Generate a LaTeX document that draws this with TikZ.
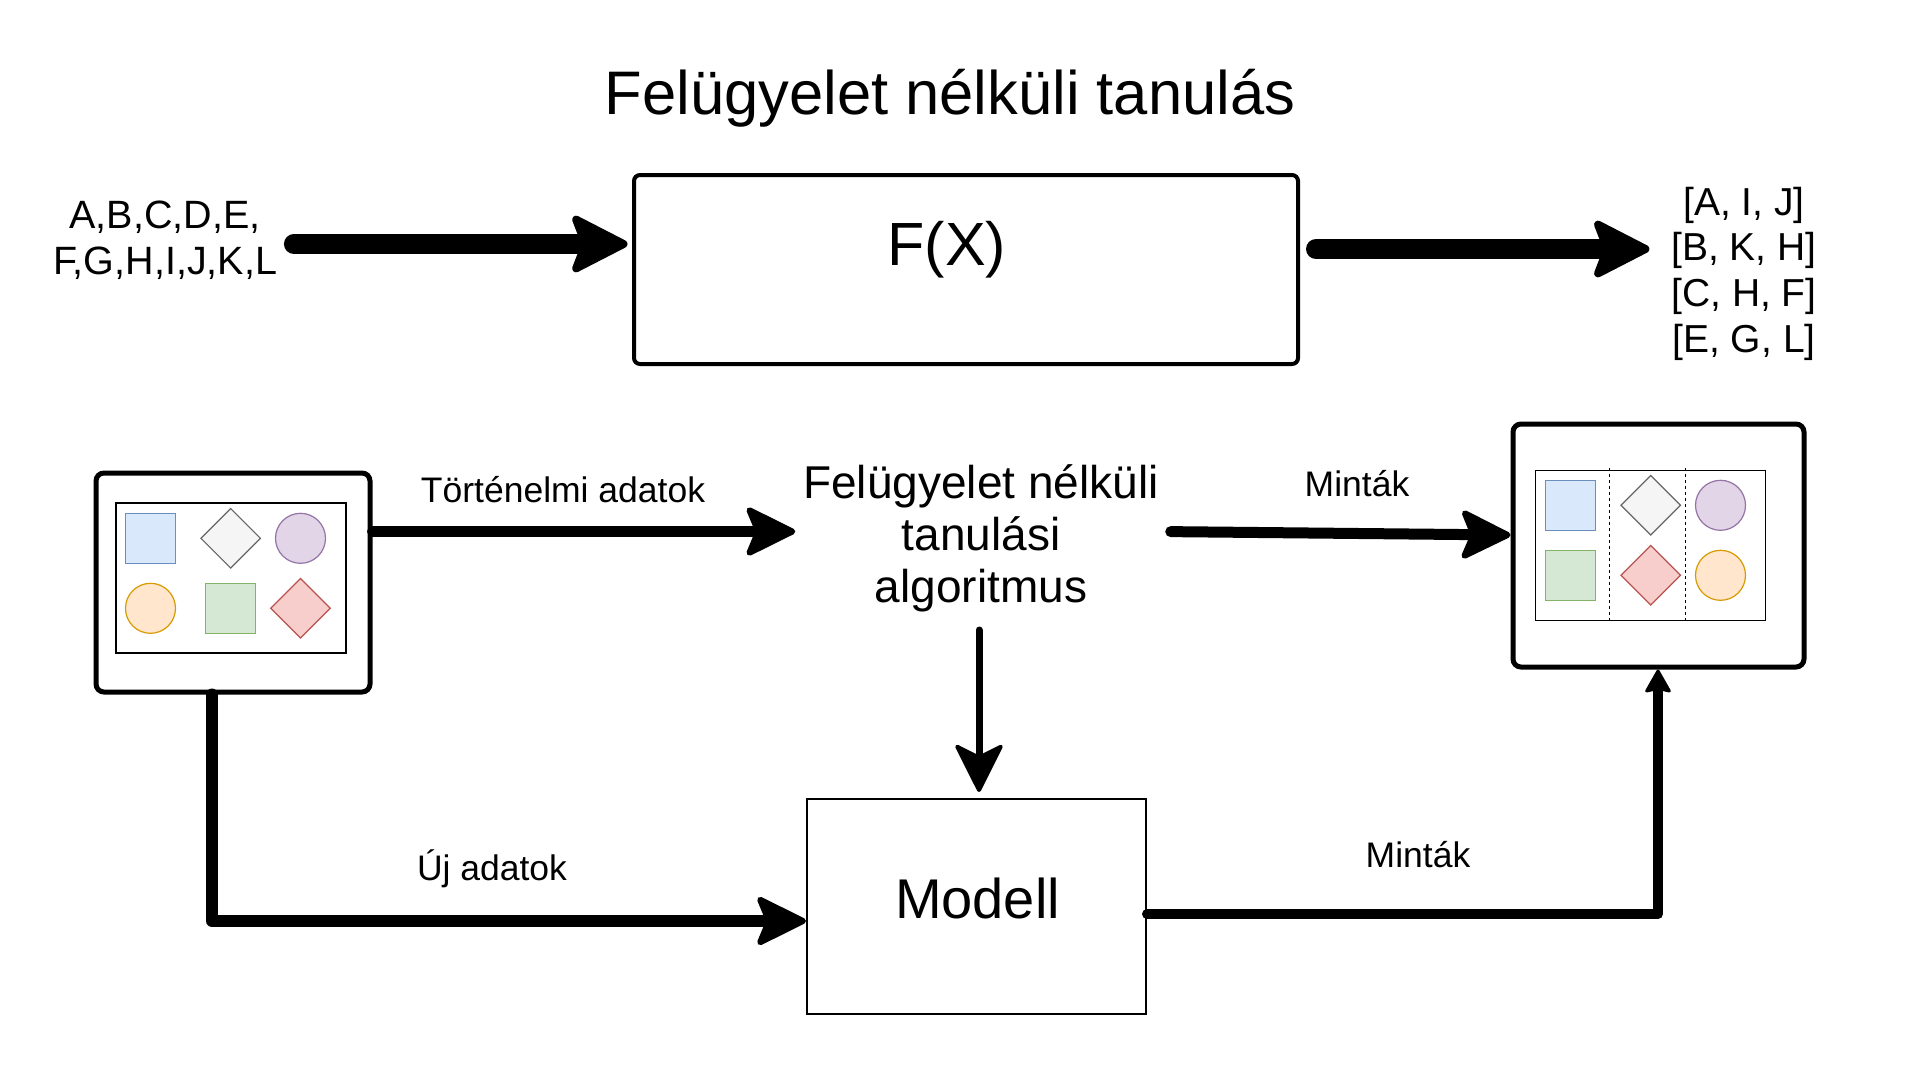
\documentclass[tikz,border=0pt]{standalone}
\usepackage{fontspec}
\setmainfont{Liberation Sans}
\usetikzlibrary{arrows.meta,shapes.geometric,calc}
\definecolor{blueF}{HTML}{DAE8FC}\definecolor{blueD}{HTML}{6C8EBF}
\definecolor{grayF}{HTML}{F5F5F5}\definecolor{grayD}{HTML}{666666}
\definecolor{purpF}{HTML}{E1D5E7}\definecolor{purpD}{HTML}{9673A6}
\definecolor{oranF}{HTML}{FFE6CC}\definecolor{oranD}{HTML}{D79B00}
\definecolor{greeF}{HTML}{D5E8D4}\definecolor{greeD}{HTML}{82B366}
\definecolor{redF}{HTML}{F8CECC}\definecolor{redD}{HTML}{B85450}
\tikzset{
  txt/.style={inner sep=0pt, outer sep=0pt},
  bigarrow/.style={line width=20pt, line cap=round, -{Stealth[length=63pt,width=64pt,inset=12pt,round,line width=8pt]}},
  midarrow/.style={line width=11pt, line cap=round, line join=round, -{Stealth[length=55pt,width=54pt,inset=11pt,round,line width=6pt]}},
  downarrow/.style={line width=7pt, line cap=round, -{Stealth[length=52pt,width=52pt,inset=13pt,round,line width=4pt]}},
  smallarrow/.style={line width=10pt, line cap=round, line join=round, -{Stealth[length=25pt,width=28pt,inset=3pt,round,line width=3pt]}},
  framebox/.style={draw, line width=5pt, rounded corners=8pt, inner sep=0pt, fill=white},
  innerbox/.style={draw, line width=1.5pt, inner sep=0pt},
  sq/.style={rectangle, draw, line width=1.2pt, minimum size=50pt, inner sep=0pt},
  ci/.style={circle, draw, line width=1.2pt, minimum size=50pt, inner sep=0pt},
  di/.style={diamond, draw, line width=1.2pt, minimum width=60pt, minimum height=60pt, inner sep=0pt},
  lbl/.style={txt, anchor=base, font=\fontsize{35.5}{42}\selectfont},
}
\begin{document}
\begin{tikzpicture}[x=1pt,y=-1pt]
\useasboundingbox[fill=white] (0,0) rectangle (1920,1080);

% title
\node[txt, anchor=base, font=\fontsize{61.5}{74}\selectfont] (title) at (950,114) {Felügyelet nélküli tanulás};

% top row
\node[draw, line width=4pt, rounded corners=6pt, minimum width=664pt, minimum height=189pt, inner sep=0pt] (fx) at (966,269.5) {};
\node[txt, anchor=base, font=\fontsize{61}{73}\selectfont] (fxt) at (947,265) {F(X)};
\node[txt, align=center, font=\fontsize{39.5}{45.5}\selectfont] (inL) at (165,240) {A,B,C,D,E,\\F,G,H,I,J,K,L};
\node[txt, align=center, font=\fontsize{39}{45.7}\selectfont] (out) at (1744,273.6) {[A, I, J]\\{[B, K, H]}\\{[C, H, F]}\\{[E, G, L]}};

\coordinate (yT1) at (0,244);
\coordinate (yT2) at (0,249);
\draw[bigarrow, shorten <=17pt, shorten >=4.5pt] (inL.east |- yT1) -- (fx.west |- yT1);
\draw[bigarrow, shorten <=16pt, shorten >=22pt] (fx.east |- yT2) -- (out.west |- yT2);

% left data box
\node[framebox, minimum width=274pt, minimum height=219pt] (lb) at (233,582.5) {};
\node[innerbox, minimum width=230pt, minimum height=150pt] (lbi) at (231,578) {};
\node[sq, fill=blueF, draw=blueD] (l1) at (150.5,538.3) {};
\node[di, fill=grayF, draw=grayD] (l2) at (230.7,538.3) {};
\node[ci, fill=purpF, draw=purpD] (l3) at (300.5,538.3) {};
\node[ci, fill=oranF, draw=oranD] (l4) at (150.5,608.3) {};
\node[sq, fill=greeF, draw=greeD] (l5) at (230.5,608.3) {};
\node[di, fill=redF, draw=redD] (l6) at (300.5,608.3) {};

% right pattern box
\node[framebox, minimum width=291pt, minimum height=243pt] (rb) at (1658.5,545.5) {};
\node[innerbox, minimum width=230pt, minimum height=150pt] (rbi) at (1650.7,545.3) {};
\draw[line width=1.2pt, dash pattern=on 3pt off 3pt] (1609.7,468) -- (1609.7,622);
\draw[line width=1.2pt, dash pattern=on 3pt off 3pt] (1685.3,468) -- (1685.3,622);
\node[sq, fill=blueF, draw=blueD] (r1) at (1570.5,505.3) {};
\node[di, fill=grayF, draw=grayD] (r2) at (1650.7,505.3) {};
\node[ci, fill=purpF, draw=purpD] (r3) at (1720.5,505.3) {};
\node[sq, fill=greeF, draw=greeD] (r4) at (1570.5,575.3) {};
\node[di, fill=redF, draw=redD] (r5) at (1650.7,575.3) {};
\node[ci, fill=oranF, draw=oranD] (r6) at (1720.5,575.3) {};

% algorithm
\node[txt, align=center, font=\fontsize{46}{52}\selectfont] (alg) at (981,538.3) {Felügyelet nélküli\\tanulási\\algoritmus};

% model
\node[draw, line width=2pt, minimum width=339pt, minimum height=215pt, inner sep=0pt] (md) at (976.5,906.5) {};
\node[txt, anchor=base, font=\fontsize{56}{67}\selectfont] (mdt) at (977.5,918) {Modell};

% labels
\node[lbl] (lh) at (563,502) {Történelmi adatok};
\node[lbl] (lm1) at (1357,496) {Minták};
\node[lbl] (lu) at (492,880) {Új adatok};
\node[lbl] (lm2) at (1418,867) {Minták};

% connectors
\coordinate (yH) at (0,531.5);
\coordinate (yH2) at (0,535);
\draw[midarrow, shorten >=8pt] (lb.east |- yH) -- (alg.west |- yH);
\draw[midarrow, shorten <=12pt] (alg.east |- yH) -- (rb.west |- yH2);
\draw[downarrow, shorten <=18pt, shorten >=6pt] ([xshift=-2pt]alg.south) -- ([xshift=2.5pt]md.north);
\coordinate (cL) at (212,921);
\draw[midarrow, line width=12pt] (lb.south -| cL) -- (cL) -- (md.west |- cL);
\coordinate (cR) at (1658,914);
\draw[smallarrow] (md.east |- cR) -- (cR) -- (rb.south -| cR);
\end{tikzpicture}
\end{document}
